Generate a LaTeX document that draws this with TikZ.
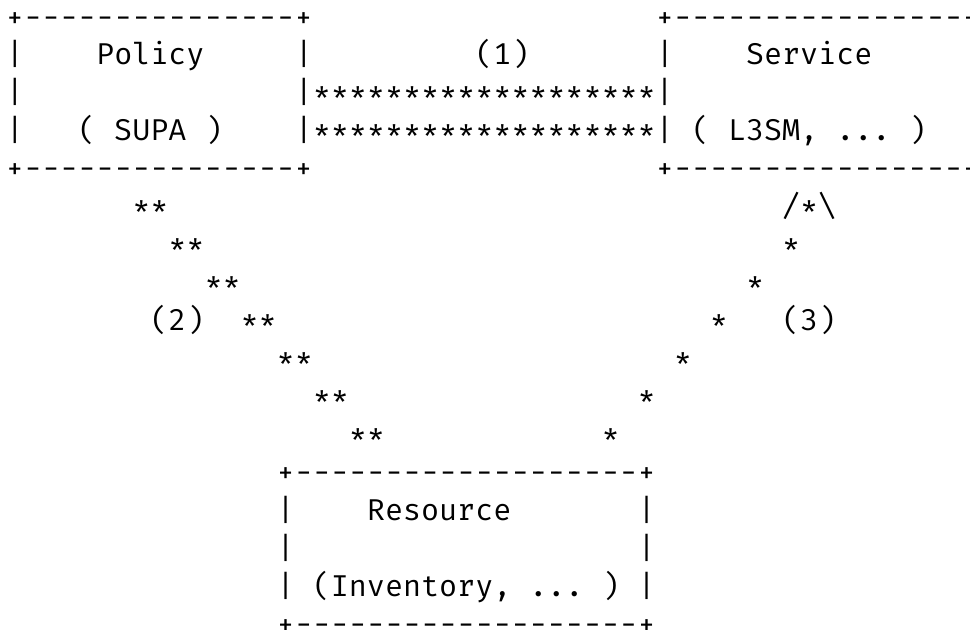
\documentclass[tikz,border=0pt]{standalone}
\usepackage{fontspec}
\setmonofont{Fira Mono}
\begin{document}
\begin{tikzpicture}[x=0.75pt,y=-0.75pt,
  txt/.style={anchor=base west, inner sep=0pt, outer sep=0pt, font=\ttfamily\fontsize{22.56pt}{28pt}\selectfont}]
\useasboundingbox (0,0) rectangle (970,629);
\newcommand\cell[4]{\node[txt] (#1) at ({5.97+18.05*#2},{27+37.94*#3}) {#4};}
% Policy box
\cell{pTop}{0}{0}{+---------------+}
\cell{pL1}{0}{1}{|}
\cell{pName}{5}{1}{Policy}
\cell{pR1}{16}{1}{|}
\cell{pL2}{0}{2}{|}
\cell{pL3}{0}{3}{|}
\cell{pSub}{4}{3}{( SUPA )}
\cell{pBot}{0}{4}{+---------------+}
% link (1)
\cell{lOne}{26}{1}{(1)}
\cell{lA}{16}{2}{|*******************|}
\cell{lB}{16}{3}{|*******************|}
% Service box
\cell{sTop}{36}{0}{+----------------+}
\cell{sL1}{36}{1}{|}
\cell{sName}{41}{1}{Service}
\cell{sR1}{53}{1}{|}
\cell{sR2}{53}{2}{|}
\cell{sSub}{38}{3}{( L3SM, ... )}
\cell{sR3}{53}{3}{|}
\cell{sBot}{36}{4}{+----------------+}
% link (2)
\cell{a5}{7}{5}{**}
\cell{a6}{9}{6}{**}
\cell{a7}{11}{7}{**}
\cell{lTwo}{8}{8}{(2)}
\cell{a8}{13}{8}{**}
\cell{a9}{15}{9}{**}
\cell{a10}{17}{10}{**}
\cell{a11}{19}{11}{**}
% link (3)
\cell{b5}{43}{5}{/*\textbackslash}
\cell{b6}{43}{6}{*}
\cell{b7}{41}{7}{*}
\cell{b8}{39}{8}{*}
\cell{lThree}{43}{8}{(3)}
\cell{b9}{37}{9}{*}
\cell{b10}{35}{10}{*}
\cell{b11}{33}{11}{*}
% Resource box
\cell{rTop}{15}{12}{+-------------------+}
\cell{rL1}{15}{13}{|}
\cell{rName}{20}{13}{Resource}
\cell{rR1}{35}{13}{|}
\cell{rL2}{15}{14}{|}
\cell{rR2}{35}{14}{|}
\cell{rL3}{15}{15}{|}
\cell{rSub}{17}{15}{(Inventory, ... )}
\cell{rR3}{35}{15}{|}
\cell{rBot}{15}{16}{+-------------------+}
\end{tikzpicture}
\end{document}
